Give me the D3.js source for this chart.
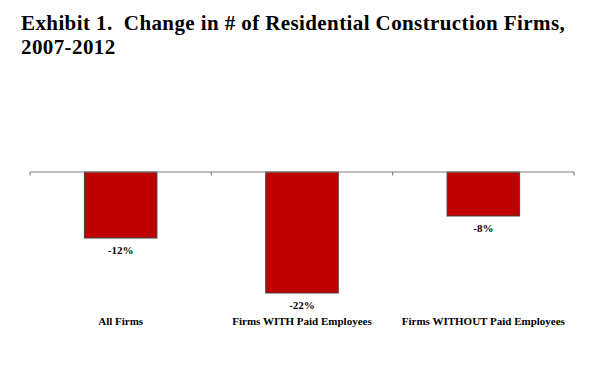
<!DOCTYPE html>
<html>
<head>
<meta charset="utf-8">
<script src="https://cdn.jsdelivr.net/npm/d3@7"></script>
<style>
  body { margin: 0; background: #fff; }
  svg { display: block; }
</style>
</head>
<body>
<div id="chart"></div>
<script>
// chart data
var categories = ["All Firms", "Firms WITH Paid Employees", "Firms WITHOUT Paid Employees"];
var changes = [-12, -22, -8];
var valueLabels = ["-12%", "-22%", "-8%"];
var titleLines = ["Exhibit 1.  Change in # of Residential Construction Firms,", "2007-2012"];

function drawChart() {
    var width = 600, height = 367;
    var font = "'Liberation Serif', 'Times New Roman', serif";

    var svg = d3.select("#chart")
      .append("svg")
        .attr("width", width)
        .attr("height", height);

    // title (keep the double space after "1.")
    svg.append("g").selectAll("text")
        .data(titleLines)
      .enter().append("text")
        .attr("x", 21)
        .attr("y", function(d, i) { return 30 + i * 24; })
        .style("font-family", font)
        .style("font-weight", "bold")
        .style("font-size", "21px")
        .style("letter-spacing", "0.4px")
        .style("white-space", "pre")
        .attr("fill", "#000")
        .text(function(d) { return d; });

    // scales
    var x = d3.scaleBand()
        .domain(categories)
        .range([30, 574])
        .paddingInner(0.6)
        .paddingOuter(0.3);

    var y = d3.scaleLinear()
        .domain([0, -22])
        .range([172, 293]);

    var data = categories.map(function(c, i) {
        return {name: c, value: changes[i], label: valueLabels[i]};
    });

    // bars
    svg.append("g").selectAll(".bar")
        .data(data)
      .enter().append("rect")
        .attr("class", "bar")
        .attr("x", function(d) { return x(d.name); })
        .attr("width", x.bandwidth())
        .attr("y", y(0))
        .attr("height", function(d) { return y(d.value) - y(0); })
        .attr("fill", "#c00000")
        .attr("stroke", "#404040")
        .attr("stroke-width", 1);

    // value labels under bars
    svg.append("g").selectAll("text")
        .data(data)
      .enter().append("text")
        .attr("x", function(d) { return x(d.name) + x.bandwidth() / 2; })
        .attr("y", function(d) { return y(d.value) + 16; })
        .attr("text-anchor", "middle")
        .style("font-family", font)
        .style("font-weight", "bold")
        .style("font-size", "11px")
        .text(function(d) { return d.label; });

    // zero axis with ticks at category boundaries
    var y0 = y(0);
    var axis = svg.append("g");
    axis.append("line")
        .attr("x1", x.range()[0])
        .attr("x2", x.range()[1])
        .attr("y1", y0)
        .attr("y2", y0)
        .attr("stroke", "#808080")
        .attr("stroke-width", 1.2);

    var bounds = d3.range(categories.length + 1).map(function(i) {
        return x.range()[0] + i * x.step();
    });
    axis.selectAll(".tick")
        .data(bounds)
      .enter().append("line")
        .attr("class", "tick")
        .attr("x1", function(d) { return d; })
        .attr("x2", function(d) { return d; })
        .attr("y1", y0)
        .attr("y2", y0 + 3.5)
        .attr("stroke", "#808080")
        .attr("stroke-width", 1.2);

    // category labels
    svg.append("g").selectAll("text")
        .data(categories)
      .enter().append("text")
        .attr("x", function(d) { return x(d) + x.bandwidth() / 2; })
        .attr("y", 325)
        .attr("text-anchor", "middle")
        .style("font-family", font)
        .style("font-weight", "bold")
        .style("font-size", "11px")
        .text(function(d) { return d; });
}

drawChart();
</script>
</body>
</html>
